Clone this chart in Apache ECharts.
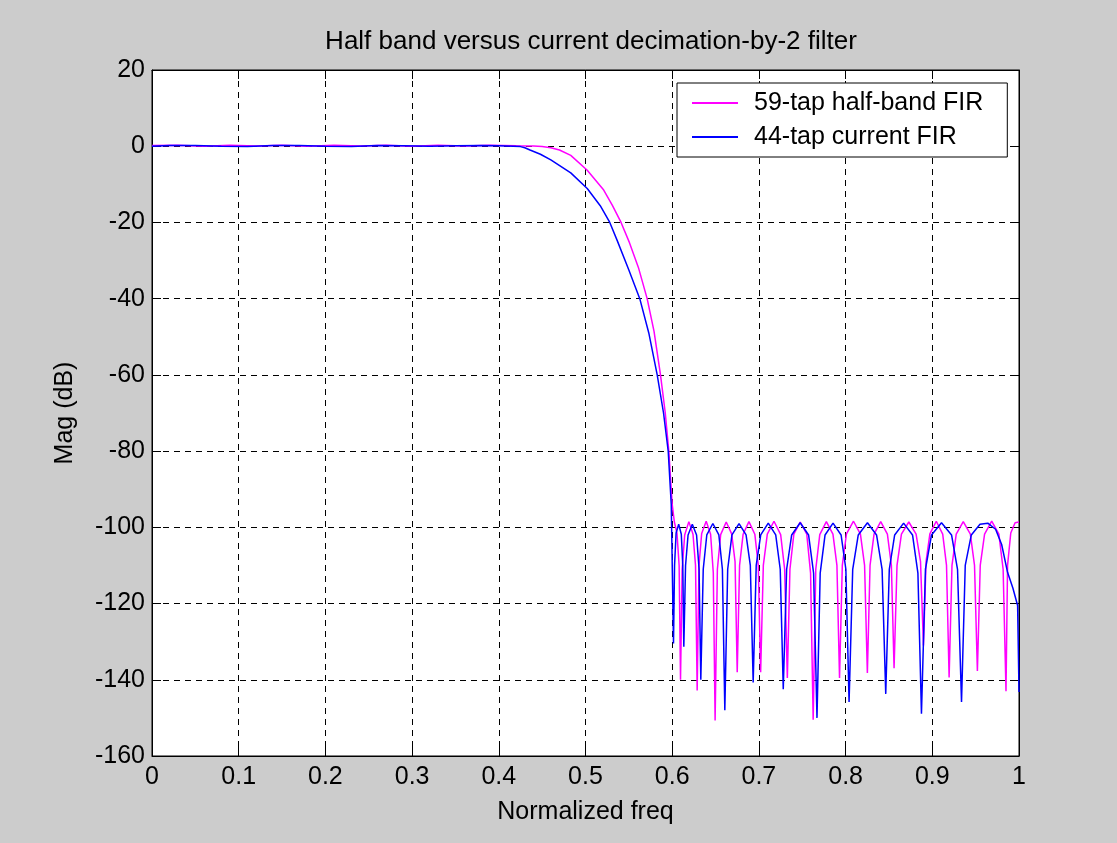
<!DOCTYPE html>
<html>
<head>
<meta charset="utf-8">
<script src="https://cdn.jsdelivr.net/npm/echarts@6/dist/echarts.min.js"></script>
<style>
  html, body { margin: 0; padding: 0; background: #cccccc; }
  #chart { width: 1117px; height: 843px; }
</style>
</head>
<body>
<div id="chart"></div>
<script>
// 59-tap half-band FIR (magenta)
const halfBandFreq = [
  0, 0.03, 0.06, 0.09, 0.12, 0.15, 0.18, 0.21, 0.24, 0.27, 0.30, 0.33, 0.36, 0.39, 0.42, 0.44,
  0.45, 0.46, 0.47, 0.483, 0.502, 0.521, 0.531, 0.541, 0.5507, 0.561, 0.5711, 0.579, 0.5865, 0.592, 0.5961, 0.600,
  0.6025, 0.6055, 0.608, 0.6096,
  0.6115, 0.6144, 0.6192, 0.6240, 0.6269, 0.6288,
  0.6309, 0.6340, 0.6392, 0.6443, 0.6474, 0.6495,
  0.6521, 0.6559, 0.6623, 0.6686, 0.6725, 0.675,
  0.6777, 0.6818, 0.6885, 0.6953, 0.6993, 0.702,
  0.7051, 0.7097, 0.7174, 0.7251, 0.7297, 0.7328,
  0.7358, 0.7403, 0.7477, 0.7552, 0.7596, 0.7626,
  0.7656, 0.7702, 0.7778, 0.7854, 0.7900, 0.793,
  0.7962, 0.8010, 0.8091, 0.8171, 0.8219, 0.8251,
  0.8282, 0.8328, 0.8405, 0.8482, 0.8528, 0.8559,
  0.8593, 0.8644, 0.8729, 0.8813, 0.8864, 0.8898,
  0.8928, 0.8972, 0.9046, 0.9120, 0.9164, 0.9194,
  0.9227, 0.9276, 0.9357, 0.9439, 0.9487, 0.952,
  0.9553, 0.9603, 0.9685, 0.9768, 0.9817, 0.985,
  0.9868, 0.9905, 0.9955, 1.0
];
const halfBandMag = [
  0.2, 0.25, 0.0, 0.25, 0.05, 0.25, 0.0, 0.25, 0.05, 0.25, 0.0, 0.25, 0.05, 0.25, 0.1, 0.05,
  -0.1, -0.4, -1.0, -2.4, -6.3, -11.5, -15.5, -20, -25.3, -31.8, -40, -48.5, -60, -70, -80, -94,
  -98.6, -101.5, -110, -140,
  -111, -102, -98.5, -101.8, -110, -142.8,
  -110, -101.6, -98.4, -101.8, -112, -150.7,
  -111, -101.9, -98.6, -101.7, -109, -138,
  -110, -101.8, -98.5, -101.8, -110, -138,
  -110, -101.8, -98.4, -101.9, -111, -139.5,
  -111, -101.8, -98.6, -101.8, -112, -150.5,
  -111, -101.9, -98.5, -101.8, -110, -139.5,
  -110, -101.7, -98.4, -101.8, -110, -138.2,
  -110, -101.8, -98.5, -101.8, -110, -137,
  -110, -101.8, -98.6, -101.8, -109, -131,
  -109, -101.7, -98.4, -101.8, -110, -139.4,
  -110, -101.8, -98.5, -101.8, -110, -137.7,
  -110, -101.8, -98.4, -101.8, -111, -143,
  -110, -101.5, -98.8, -98.6
];

// 44-tap current FIR (blue)
const currentFreq = [
  0, 0.02, 0.05, 0.08, 0.11, 0.14, 0.17, 0.20, 0.23, 0.26, 0.29, 0.32, 0.35, 0.38, 0.40, 0.425,
  0.43, 0.436, 0.448, 0.46, 0.483, 0.502, 0.517, 0.528, 0.5365, 0.55, 0.5626, 0.573, 0.5827, 0.590, 0.5954, 0.5989,
  0.6015,
  0.6027, 0.6045, 0.6075, 0.6105, 0.6122, 0.6134,
  0.6154, 0.6183, 0.6232, 0.6281, 0.6310, 0.6330,
  0.6358, 0.6399, 0.6469, 0.6538, 0.6579, 0.6607,
  0.6640, 0.6689, 0.6771, 0.6852, 0.6901, 0.6934,
  0.6969, 0.7021, 0.7108, 0.7194, 0.7246, 0.7281,
  0.7320, 0.7378, 0.7476, 0.7573, 0.7631, 0.7670,
  0.7707, 0.7763, 0.7855, 0.7948, 0.8003, 0.8040,
  0.8082, 0.8146, 0.8252, 0.8357, 0.8421, 0.8463,
  0.8504, 0.8566, 0.8669, 0.8772, 0.8834, 0.8875,
  0.8921, 0.8991, 0.9106, 0.9222, 0.9291, 0.9337,
  0.9380, 0.9450, 0.9550, 0.9640, 0.9730, 0.9800, 0.9868, 0.9930, 0.9984, 1.0
];
const currentMag = [
  0.0, 0.2, 0.2, 0.0, -0.05, 0.2, 0.2, 0.0, -0.05, 0.2, 0.15, 0.0, 0.1, 0.2, 0.1, -0.1,
  -0.4, -1, -2.1, -3.6, -7.0, -11.1, -15.6, -20, -24.7, -32.5, -40, -49, -60, -70, -80, -94,
  -130.5,
  -110, -101.5, -99.2, -101.8, -110, -131.3,
  -110, -102, -99.2, -102, -111, -140,
  -111, -102, -99.0, -102, -111, -148,
  -111, -102, -99.0, -102, -110, -140.7,
  -110, -102, -98.9, -102, -111, -142.5,
  -111, -102, -98.8, -102, -112, -150,
  -112, -102, -98.9, -102, -111, -145.8,
  -111, -102, -98.8, -102, -111, -143.7,
  -111, -102, -98.9, -102, -112, -148.9,
  -111, -102, -98.8, -102, -111, -145.8,
  -110, -102, -99.2, -98.9, -100.5, -104.5, -111.8, -116, -120.5, -143.2
];

const seriesNames = ['59-tap half-band FIR', '44-tap current FIR'];
const xTicks = { min: 0, max: 1, step: 0.1 };
const yTicks = { min: -160, max: 20, step: 20 };

const zip = (xs, ys) => xs.map((x, i) => [x, ys[i]]);
const font = '"Liberation Sans", Arial, sans-serif';

const myChart = echarts.init(document.getElementById('chart'));
const option = {
  animation: false,
  backgroundColor: '#cccccc',
  textStyle: { fontFamily: font },
  title: {
    text: 'Half band versus current decimation-by-2 filter',
    left: 586,
    textAlign: 'center',
    top: 24,
    textStyle: { fontFamily: font, fontSize: 26, fontWeight: 'normal', color: '#000' }
  },
  legend: {
    orient: 'vertical',
    left: 677,
    top: 83,
    padding: [6, 24, 6, 15],
    itemGap: 6,
    itemWidth: 46,
    itemHeight: 2,
    icon: 'rect',
    backgroundColor: '#fff',
    borderColor: '#000',
    borderWidth: 1,
    borderRadius: 0,
    textStyle: { fontFamily: font, fontSize: 25, color: '#000', lineHeight: 28, padding: [0, 0, 0, 11] },
    data: seriesNames
  },
  grid: {
    left: 152, right: 98, top: 70, bottom: 87,
    show: true,
    backgroundColor: '#fff',
    borderColor: '#000',
    borderWidth: 1
  },
  xAxis: [
    {
      type: 'value',
      min: xTicks.min, max: xTicks.max, interval: xTicks.step,
      name: 'Normalized freq',
      nameLocation: 'middle',
      nameGap: 44,
      nameTextStyle: { fontFamily: font, fontSize: 25, color: '#000' },
      axisLine: { onZero: false, lineStyle: { color: '#000' } },
      axisTick: { inside: true, length: 9, lineStyle: { color: '#000' } },
      axisLabel: { fontFamily: font, fontSize: 25, color: '#000', margin: 9 },
      splitLine: { show: true, lineStyle: { color: '#000', type: [6, 5], width: 1 } }
    },
    {
      type: 'value', position: 'top',
      min: xTicks.min, max: xTicks.max, interval: xTicks.step,
      axisLine: { onZero: false, lineStyle: { color: '#000' } },
      axisTick: { inside: true, length: 9, lineStyle: { color: '#000' } },
      axisLabel: { show: false },
      splitLine: { show: false }
    }
  ],
  yAxis: [
    {
      type: 'value',
      min: yTicks.min, max: yTicks.max, interval: yTicks.step,
      name: 'Mag (dB)',
      nameLocation: 'middle',
      nameGap: 74,
      nameTextStyle: { fontFamily: font, fontSize: 25, color: '#000' },
      axisLine: { show: true, onZero: false, lineStyle: { color: '#000' } },
      axisTick: { show: true, inside: true, length: 9, lineStyle: { color: '#000' } },
      axisLabel: { fontFamily: font, fontSize: 25, color: '#000', margin: 7 },
      splitLine: { show: true, lineStyle: { color: '#000', type: [6, 5], width: 1 } }
    },
    {
      type: 'value', position: 'right',
      min: yTicks.min, max: yTicks.max, interval: yTicks.step,
      axisLine: { show: true, onZero: false, lineStyle: { color: '#000' } },
      axisTick: { show: true, inside: true, length: 9, lineStyle: { color: '#000' } },
      axisLabel: { show: false },
      splitLine: { show: false }
    }
  ],
  series: [
    {
      name: seriesNames[0],
      type: 'line',
      symbol: 'none',
      color: '#ff00ff',
      lineStyle: { width: 1.5, color: '#ff00ff' },
      data: zip(halfBandFreq, halfBandMag)
    },
    {
      name: seriesNames[1],
      type: 'line',
      symbol: 'none',
      color: '#0000ff',
      lineStyle: { width: 1.5, color: '#0000ff' },
      data: zip(currentFreq, currentMag)
    }
  ]
};
myChart.setOption(option);
</script>
</body>
</html>
